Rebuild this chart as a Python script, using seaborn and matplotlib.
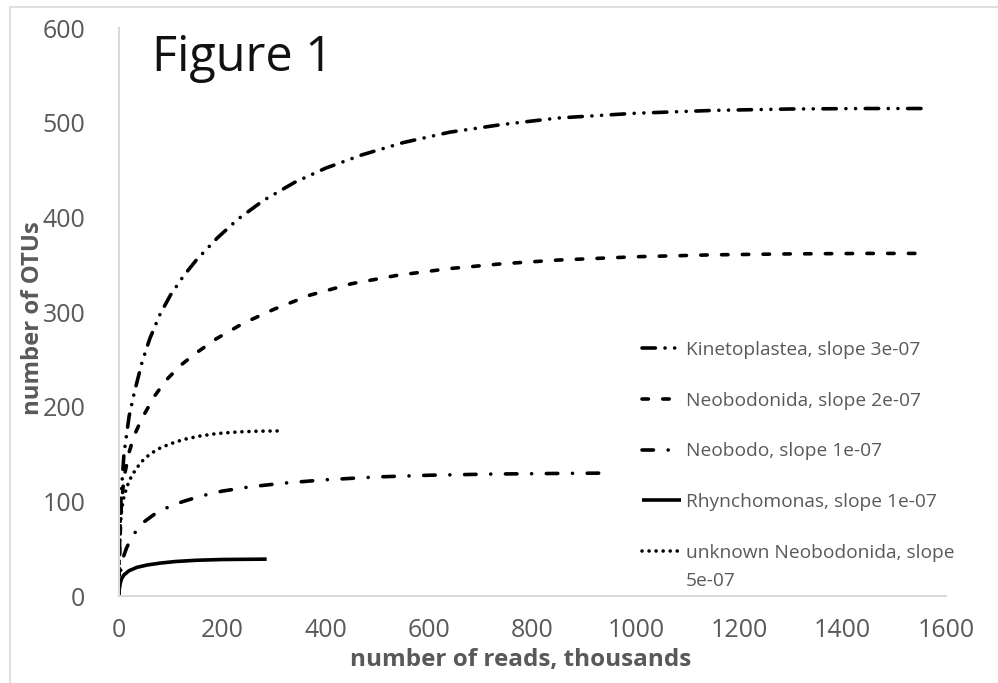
import matplotlib
matplotlib.use("Agg")
import matplotlib.pyplot as plt
import seaborn as sns
import pandas as pd
from matplotlib.patches import Rectangle

# ---- data (x: thousands of reads, y: number of OTUs) ----
series_names = [
    "Kinetoplastea, slope 3e-07",
    "Neobodonida, slope 2e-07",
    "Neobodo, slope 1e-07",
    "Rhynchomonas, slope 1e-07",
    "unknown Neobodonida, slope",
]
label_extra = "5e-07"   # second line of the last legend entry

kin_x = [0, 2, 5, 10, 20, 30, 45, 60, 80, 100, 125, 150, 190, 230, 280, 340, 400, 470, 550, 640, 740, 850, 1000, 1150, 1300, 1450, 1569]
kin_y = [0, 65, 110, 150, 190, 215, 247, 272, 298, 318, 338, 355, 378, 398, 418, 437, 452, 466, 479, 490, 498, 505, 510, 513, 514.5, 515, 515]

neo_x = [0, 2, 5, 10, 20, 30, 46, 70, 93, 120, 150, 189, 240, 300, 370, 450, 540, 640, 740, 850, 1000, 1150, 1300, 1450, 1543]
neo_y = [0, 55, 95, 125, 152, 170, 189, 212, 229, 244, 257, 272, 288, 303, 318, 330, 339, 346, 351, 355, 358.5, 360.5, 361.5, 362, 362]

nbo_x = [0, 3, 8, 15, 25, 35, 50, 70, 95, 124, 160, 200, 253, 320, 400, 500, 600, 720, 830, 930]
nbo_y = [0, 25, 40, 51, 62, 70, 79, 87, 94, 100, 106, 111, 115.5, 119.5, 123, 126, 127.8, 129, 129.6, 130]

rhy_x = [0, 1, 3, 6, 10, 20, 35, 55, 80, 110, 150, 200, 286]
rhy_y = [0, 8, 14, 19, 22.5, 27, 30.5, 33, 35, 36.7, 38, 38.8, 39.2]

unk_x = [0, 1, 3, 6, 10, 16, 24, 34, 46, 60, 78, 100, 125, 155, 190, 230, 270, 317]
unk_y = [0, 45, 75, 93, 105, 116, 126, 135, 143, 150, 156, 161, 165.5, 169, 171.8, 173.5, 174.3, 174.6]

xs = [kin_x, neo_x, nbo_x, rhy_x, unk_x]
ys = [kin_y, neo_y, nbo_y, rhy_y, unk_y]

x_ticks = [0, 200, 400, 600, 800, 1000, 1200, 1400, 1600]
y_ticks = [0, 100, 200, 300, 400, 500, 600]

frames = []
for name, x, y in zip(series_names, xs, ys):
    frames.append(pd.DataFrame({"reads": x, "otus": y, "group": name}))
df = pd.concat(frames, ignore_index=True)

# ---- style ----
sns.set_theme(style="white")
plt.rcParams["font.family"] = ["Open Sans", "DejaVu Sans"]
plt.rcParams["lines.dash_capstyle"] = "round"
plt.rcParams["lines.solid_capstyle"] = "butt"

dash_map = {
    series_names[0]: (3.7, 2.67, 0.01, 2.67, 0.01, 2.67),
    series_names[1]: (1.78, 3.97),
    series_names[2]: (3.17, 4.07, 0.01, 4.07),
    series_names[3]: "",
    series_names[4]: (0.01, 1.94),
}

gray = "#595959"
fig = plt.figure(figsize=(9.98, 6.83), dpi=100)
ax = fig.add_axes([0.119, 0.127, 0.829, 0.832])

sns.lineplot(data=df, x="reads", y="otus", style="group", style_order=series_names,
             dashes=dash_map, color="black", linewidth=2.6, ax=ax, sort=False,
             estimator=None, legend="full")

ax.set_xlim(0, 1600)
ax.set_ylim(0, 600)
ax.set_xticks(x_ticks)
ax.set_yticks(y_ticks)
ax.tick_params(axis="both", length=0, labelsize=18, labelcolor=gray)
ax.tick_params(axis="x", pad=16)
ax.tick_params(axis="y", pad=24)
ax.set_xlabel("number of reads, thousands", fontsize=17.5, fontweight="bold", color=gray)
ax.xaxis.set_label_coords(0.486, -0.091)
ax.set_ylabel("number of OTUs", fontsize=17.2, fontweight="bold", color=gray)
ax.yaxis.set_label_coords(-0.0895, 0.49)

for s in ["top", "right"]:
    ax.spines[s].set_visible(False)
for s in ["left", "bottom"]:
    ax.spines[s].set_color("#d9d9d9")
    ax.spines[s].set_linewidth(1.5)

handles, labels = ax.get_legend_handles_labels()
leg = ax.legend(handles, labels, loc="upper left", bbox_to_anchor=(0.623, 0.463),
                borderaxespad=0, frameon=False, fontsize=13.8, labelcolor=gray,
                handlelength=2.05, handletextpad=0.25, labelspacing=1.71)

ax.text(0.04, 0.99, "Figure 1", transform=ax.transAxes, fontsize=35,
        color="#111111", va="top", ha="left")

# second line of the last legend label, placed under its first line
fig.canvas.draw()
last_txt = leg.get_texts()[-1]
bb = last_txt.get_window_extent()
x0, y0 = fig.transFigure.inverted().transform((bb.x0, bb.y0 - 28))
fig.text(x0, y0 + (bb.height / 2) / fig.bbox.height, label_extra, fontsize=13.8,
         color=gray, ha="left", va="center")

# outer light frame
fig.patches.append(Rectangle((10 / 998, -0.1), 1.2, 1.1 - 7 / 683, transform=fig.transFigure,
                             fill=False, edgecolor="#d9d9d9", linewidth=1.2))

fig.savefig("out.png", dpi=100)
